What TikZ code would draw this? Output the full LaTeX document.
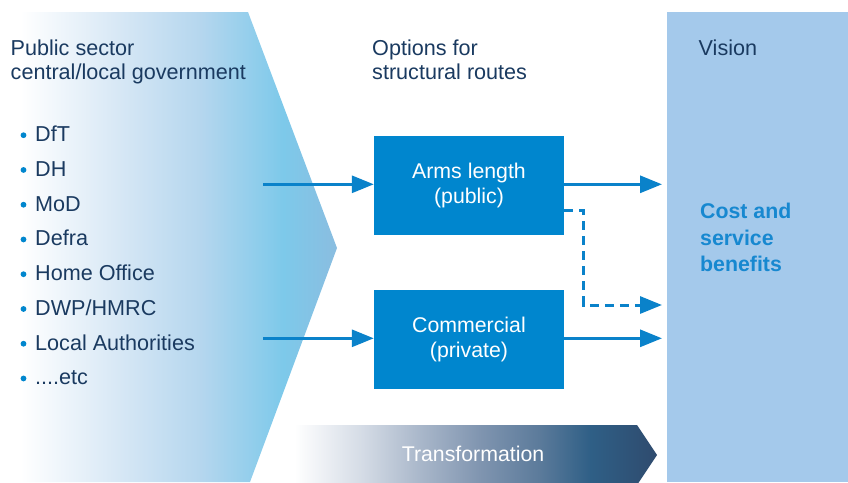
\documentclass[tikz,border=0pt]{standalone}
\usepackage{fontspec}
\setmainfont{Liberation Sans}
\usetikzlibrary{arrows.meta}

\definecolor{navy}{HTML}{1A3A60}
\definecolor{boxblue}{HTML}{0086CE}
\definecolor{linkblue}{HTML}{0A82CA}
\definecolor{panelblue}{HTML}{A4C9EB}
\definecolor{benefitblue}{HTML}{1788D0}
\definecolor{lfA}{HTML}{D6E7F5}
\definecolor{lfB}{HTML}{B4D6EE}
\definecolor{lfC}{HTML}{7DC9EA}
\definecolor{lfD}{HTML}{8ABDE0}
\definecolor{trA}{HTML}{D5DCE6}
\definecolor{trB}{HTML}{A9B7CA}
\definecolor{trC}{HTML}{8095B0}
\definecolor{trD}{HTML}{5C7B9B}
\definecolor{trE}{HTML}{2F5F86}
\definecolor{trF}{HTML}{2F4B6E}

% fade of the government chevron (white -> sky blue)
\pgfdeclarehorizontalshading{govfade}{100bp}{%
  color(0bp)=(white); color(28bp)=(white); color(43bp)=(lfA);
  color(55bp)=(lfB); color(67bp)=(lfC); color(75bp)=(lfD); color(100bp)=(lfD)}
% fade of the transformation arrow (white -> dark slate blue)
\pgfdeclarehorizontalshading{transfade}{100bp}{%
  color(0bp)=(white); color(26bp)=(white); color(35bp)=(trA);
  color(43bp)=(trB); color(51bp)=(trC); color(59bp)=(trD);
  color(66bp)=(trE); color(75bp)=(trF); color(100bp)=(trF)}

\tikzset{
  txt/.style={inner sep=0pt, anchor=base west, text=navy,
              font=\fontsize{21.6}{25}\selectfont},
  benefit/.style={txt, text=benefitblue, font=\fontsize{21.3}{25}\bfseries\selectfont},
  routebox/.style={fill=boxblue, text=white, minimum width=190pt,
                   minimum height=99pt, inner sep=0pt, align=center,
                   font=\fontsize{21.3}{25}\selectfont},
  link/.style={draw=linkblue, line width=3pt,
               -{Triangle[length=22pt,width=17pt]}},
  dashlink/.style={link, dash pattern=on 9pt off 6pt},
}

\begin{document}
\begin{tikzpicture}[x=1pt, y=-1pt]
  \useasboundingbox (0,0) rectangle (848,482);

  % government chevron and transformation arrow
  \begin{scope}
    \clip (0,0) rectangle (848,482);
    \shade[shading=govfade] (0,12) -- (248,12) -- (337,248) -- (250,482) -- (0,482) -- cycle;
    \shade[shading=transfade] (287,425) -- (637,425) -- (657,455) -- (637,485) -- (287,485) -- cycle;
  \end{scope}

  % vision panel
  \node[fill=panelblue, minimum width=181pt, minimum height=470pt, inner sep=0pt,
        anchor=north west] (panel) at (667,12) {};

  % column headings
  \node[txt] (govA) at (10.5,55) {Public sector};
  \node[txt] (govB) at (10.5,79.5) {central/local government};
  \node[txt] (optA) at (372,55) {Options for};
  \node[txt] (optB) at (372,79.5) {structural routes};
  \node[txt] (vis) at (698.5,55) {Vision};

  % bodies in the list
  \foreach \name/\lab [count=\i from 0] in
     {dft/{DfT}, dh/{DH}, mod/{MoD}, defra/{Defra}, home/{Home Office},
      dwp/{DWP/HMRC}, local/{Local Authorities}, etc/{{....etc}}} {
    \pgfmathsetmacro{\yb}{141.7+34.75*\i}
    \fill[boxblue] (23.5,\yb-6.5) circle (2.9pt);
    \node[txt] (\name) at (35,\yb) {\lab};
  }

  % structural routes
  \node[routebox] (arms) at (469,185.5) {Arms length\\(public)};
  \node[routebox] (comm) at (469,339.5) {Commercial\\(private)};

  % benefits
  \node[benefit] (costA) at (700,218.3) {Cost and};
  \node[benefit] (costB) at (700,245) {service};
  \node[benefit] (costC) at (700,271.7) {benefits};

  % transformation label
  \node[inner sep=0pt, anchor=base, text=white, font=\fontsize{21.3}{25}\selectfont]
       (trans) at (473,461) {Transformation};

  % connectors
  \coordinate (inA) at (263,184.3);
  \coordinate (inB) at (263,338.3);
  \coordinate (outA) at (662,184.3);
  \coordinate (outB) at (662,338.3);
  \coordinate (dturn) at (583.5,305);
  \coordinate (dend) at (662,305);

  \draw[link] (inA) -- (inA -| arms.west);
  \draw[link] (inB) -- (inB -| comm.west);
  \draw[link] (outA -| arms.east) -- (outA);
  \draw[link] (outB -| comm.east) -- (outB);
  \draw[dashlink] ([yshift=-25.2pt]arms.east) -| (dturn) -- (dend);
\end{tikzpicture}
\end{document}
